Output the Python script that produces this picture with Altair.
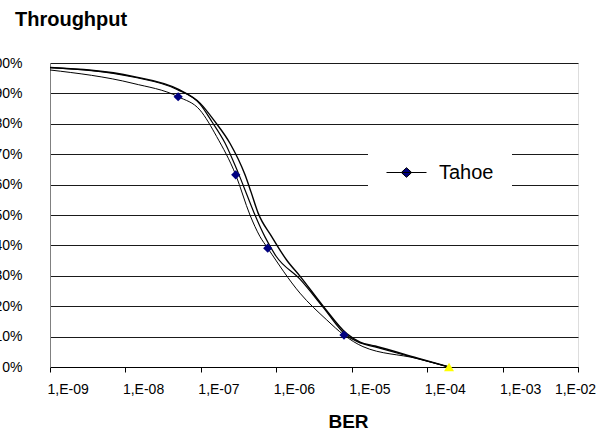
import json
import altair as alt
import pandas as pd

# ---- data ----
ber_tahoe = [1.0e-9, 1.26e-8, 5.0e-8, 9.75e-8, 1.62e-7, 2.9e-7, 4.48e-7, 6.08e-7,
             7.7e-7, 2.06e-6, 4.66e-6, 7.9e-6, 1.41e-5, 7.33e-5, 1.95e-4]
thr_tahoe = [97.7, 93.3, 88.9, 84.5, 75.8, 63.2, 50.0, 42.9,
             39.1, 24.3, 15.5, 10.5, 6.7, 2.8, 0.0]
mark_tahoe = [False, False, True, False, False, True, False, False,
              True, False, False, True, False, False, False]

ber_s2 = [1.0e-9, 1.26e-8, 4.83e-8, 9.75e-8, 1.41e-7, 2.09e-7, 3.1e-7, 4.09e-7, 5.22e-7,
          7.08e-7, 9.9e-7, 2.06e-6, 4.16e-6, 8.4e-6, 1.21e-5, 2.04e-5, 7.33e-5, 1.95e-4]
thr_s2 = [98.5, 95.4, 91.3, 86.5, 80.6, 73.7, 64.1, 56.6, 50.0,
          42.8, 36.5, 28.9, 19.7, 10.5, 8.2, 6.6, 2.8, 0.0]

ber_s3 = [1.0e-9, 1.26e-8, 4.98e-8, 9.75e-8, 1.54e-7, 2.43e-7, 3.85e-7, 4.62e-7, 5.73e-7,
          8.69e-7, 1.37e-6, 2.06e-6, 4.16e-6, 8.65e-6, 1.29e-5, 2.04e-5, 7.33e-5, 1.95e-4]
thr_s3 = [98.5, 95.6, 91.4, 86.8, 80.7, 73.6, 63.2, 57.6, 50.7,
          42.9, 35.2, 29.9, 20.1, 10.9, 8.2, 6.9, 3.0, 0.0]

ber_end = [1.95e-4]
thr_end = [0.0]

series_names = ["Tahoe", "Serie 2", "Serie 3"]
x_ticks = [1e-9, 1e-8, 1e-7, 1e-6, 1e-5, 1e-4, 1e-3, 1e-2]
x_labels = ["1,E-09", "1,E-08", "1,E-07", "1,E-06", "1,E-05", "1,E-04", "1,E-03", "1,E-02"]
y_ticks = [0, 10, 20, 30, 40, 50, 60, 70, 80, 90, 100]

# ---- tables ----
lines_df = pd.concat([
    pd.DataFrame({"ber": ber_tahoe, "thr": thr_tahoe, "series": series_names[0]}),
    pd.DataFrame({"ber": ber_s2, "thr": thr_s2, "series": series_names[1]}),
    pd.DataFrame({"ber": ber_s3, "thr": thr_s3, "series": series_names[2]}),
], ignore_index=True)

marks_df = pd.DataFrame({"ber": ber_tahoe, "thr": thr_tahoe, "m": mark_tahoe})
marks_df = marks_df[marks_df["m"]].drop(columns="m")
marks_df["series"] = "Tahoe"

end_df = pd.DataFrame({"ber": ber_end, "thr": thr_end})

FONT = "Liberation Sans"

label_expr = json.dumps(x_labels) + "[round(log(datum.value)/LN10) + 9]"

x_enc = alt.X(
    "ber:Q",
    scale=alt.Scale(type="log", domain=[1e-9, 1e-2], nice=False),
    axis=alt.Axis(
        values=x_ticks, labelExpr=label_expr, grid=False,
        title="BER", titleFont=FONT, titleFontSize=19, titleFontWeight="bold",
        titleColor="black", titleX=298, titleY=45, titleBaseline="top",
        labelFont=FONT, labelFontSize=14, labelColor="black",
        labelAlign={"condition": {"test": "datum.value >= 0.01", "value": "center"}, "value": "left"},
        labelOffset=-3, labelPadding=10, labelFlush=False, labelOverlap=False,
        tickSize=5, tickColor="#000000", domainColor="#000000",
    ),
)
y_enc = alt.Y(
    "thr:Q",
    scale=alt.Scale(domain=[0, 100], nice=False),
    axis=alt.Axis(
        values=y_ticks, tickCount=11, labelExpr="datum.value + '%'", title=None,
        ticks=False, labelPadding=28, labelFont=FONT, labelFontSize=14,
        labelColor="black", labelOverlap=False, labelFlush=False,
        domainColor="#808080",
        grid=True, gridColor="#1a1a1a", gridWidth=1,
    ),
)

lines = alt.Chart(lines_df).mark_line(interpolate="monotone", color="black").encode(
    x=x_enc, y=y_enc, detail="series:N",
    strokeWidth=alt.StrokeWidth("series:N", scale=alt.Scale(domain=series_names, range=[1.0, 1.4, 1.4]), legend=None),
)

legend_path = "M-1,0 L1,0 M0,-0.24 L0.26,0 L0,0.24 L-0.26,0 Z"

points = alt.Chart(marks_df).mark_point(shape="diamond", filled=True, size=85, opacity=1).encode(
    x=x_enc, y=y_enc,
    color=alt.Color("series:N", scale=alt.Scale(domain=["Tahoe"], range=["#000080"]),
                    legend=alt.Legend(
                        title=None, orient="none", legendX=318, legendY=71,
                        fillColor="white", padding=18,
                        symbolType=legend_path, symbolSize=1600,
                        symbolStrokeColor="black", symbolStrokeWidth=1,
                        labelFont=FONT, labelFontSize=20, labelColor="black", labelOffset=12,
                    )),
)

end_pt = alt.Chart(end_df).mark_point(shape="triangle-up", filled=True, size=100, color="#ffff00", opacity=1).encode(
    x=x_enc, y=y_enc,
)

chart = alt.layer(lines, points, end_pt).properties(
    width=528, height=304,
    padding={"left": 50, "top": 63, "right": 37, "bottom": 64},
    autosize=alt.AutoSizeParams(type="none"),
    title=alt.TitleParams(text="Throughput", anchor="start", frame="group", dx=-35,
                          font=FONT, fontSize=20, fontWeight="bold", color="black",
                          baseline="alphabetic", offset=0, dy=-10),
).configure_view(stroke="#808080", strokeWidth=1).configure(background="white")

chart.save("out.html", embed_options={"renderer": "svg", "actions": False})
